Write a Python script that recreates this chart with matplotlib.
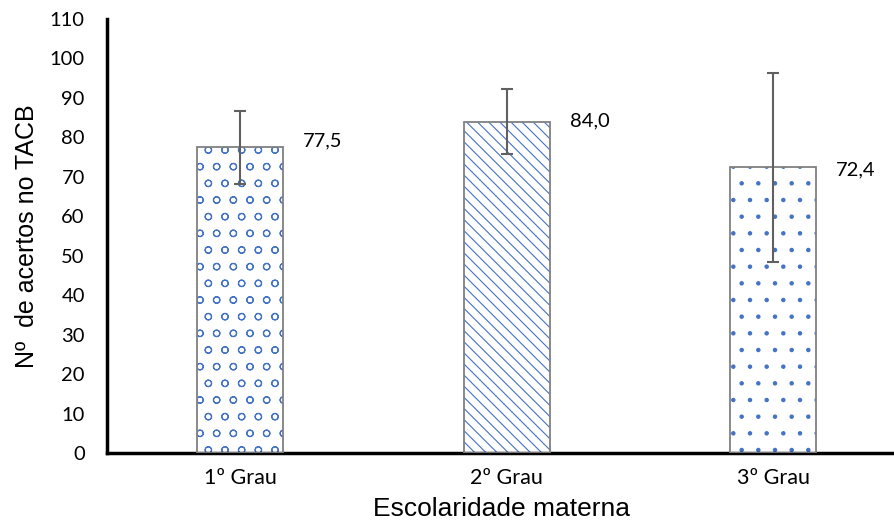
import matplotlib
matplotlib.use('Agg')
import matplotlib.pyplot as plt

# data
categorias = ['1º Grau', '2º Grau', '3º Grau']
medias = [77.5, 84.0, 72.4]
desvios = [9.2, 8.2, 24.0]
rotulos = ['77,5', '84,0', '72,4']
yticks = list(range(0, 111, 10))

hatches = ['o', '\\\\\\', '.']
label_dy = [6, 1, -3]   # pixel offsets of the value labels

plt.rcParams['hatch.linewidth'] = 0.8
plt.rcParams['font.family'] = ['Lato', 'DejaVu Sans']

fig = plt.figure(figsize=(8.95, 5.26), dpi=100)
ax = fig.add_axes([0.1196, 0.1388, 0.8804, 0.8251])

x = list(range(len(categorias)))
w = 0.323

# hatched fill (hatch takes the edge colour), then a gray outline on top
for i in x:
    ax.bar(i, medias[i], w, color='white', edgecolor='#4472C4',
           hatch=hatches[i], linewidth=0, zorder=2)
ax.bar(x, medias, w, fill=False, edgecolor='#808080', linewidth=1.3, zorder=3)

ax.errorbar(x, medias, yerr=desvios, fmt='none', ecolor='#606060',
            elinewidth=1.5, capsize=4.5, capthick=1.5, zorder=4)

for i in x:
    ax.annotate(rotulos[i], (i + w / 2, medias[i]),
                xytext=(20, label_dy[i]), textcoords='offset pixels',
                ha='left', va='center', fontsize=14.5)

ax.set_xlim(-0.5, -0.5 + 788 / 266.5)
ax.set_ylim(0, 110)
ax.set_yticks(yticks)
ax.set_xticks(x)
ax.set_xticklabels(categorias)
ax.tick_params(axis='y', labelsize=14.5, length=0, pad=16)
ax.tick_params(axis='x', labelsize=15.5, length=0, pad=11)

for s in ['top', 'right']:
    ax.spines[s].set_visible(False)
for s in ['left', 'bottom']:
    ax.spines[s].set_linewidth(2.5)
    ax.spines[s].set_color('black')

ax.set_xlabel('Escolaridade materna', family='Liberation Sans', fontsize=19,
              labelpad=6)
ax.set_ylabel('Nº  de acertos no TACB', family='Liberation Sans', fontsize=18,
              labelpad=8)

fig.savefig('out.png', dpi=100)
